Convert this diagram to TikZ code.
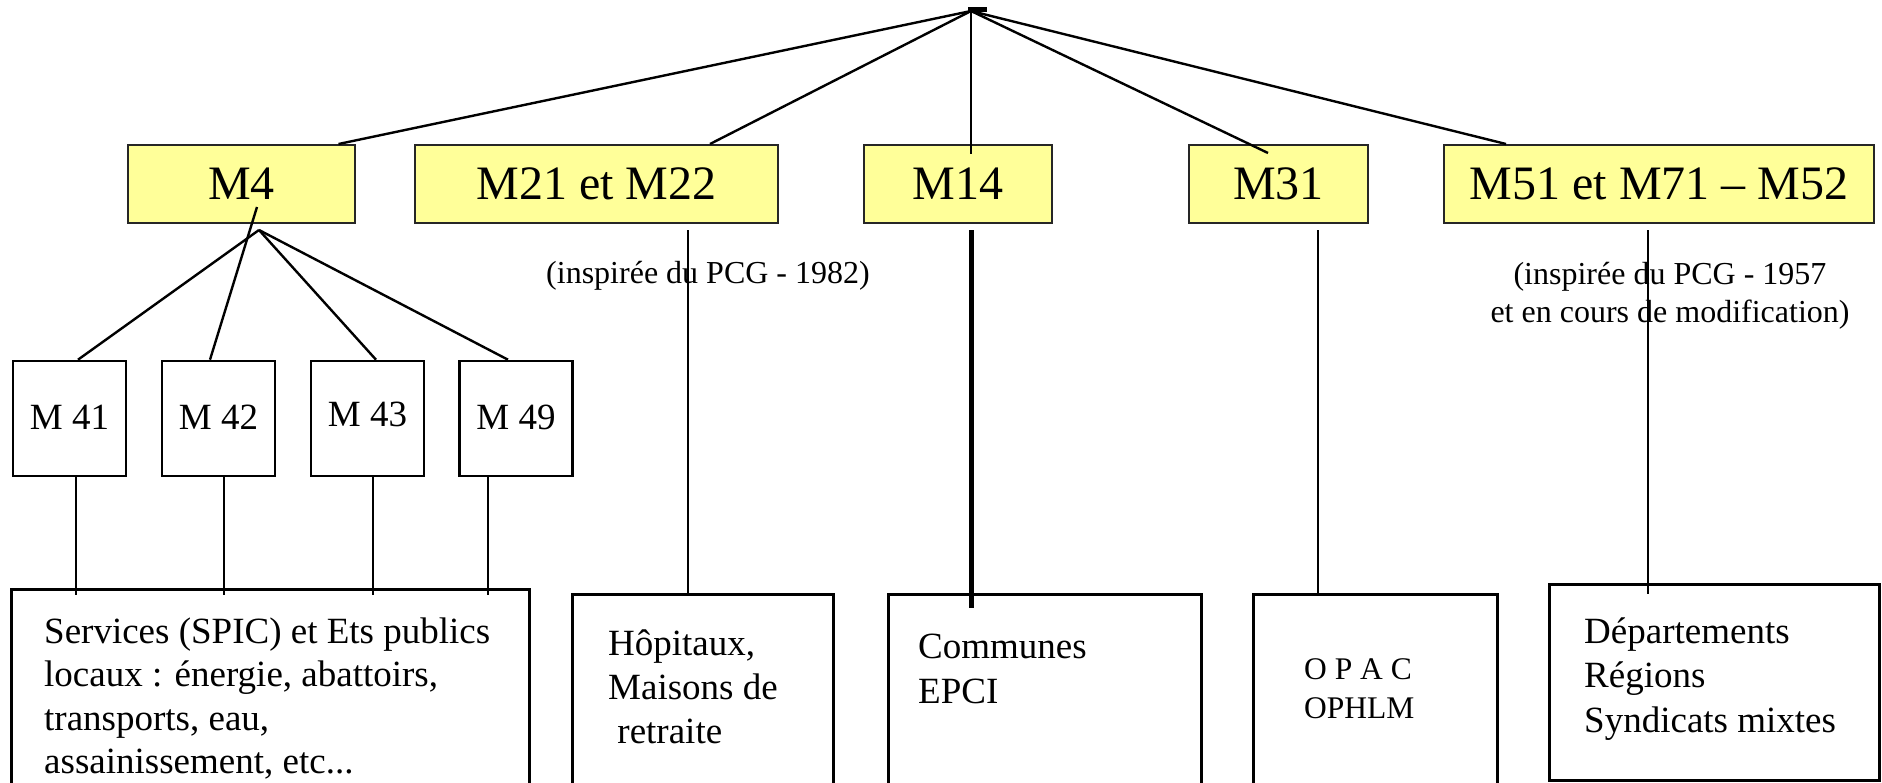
\documentclass[tikz,border=0pt]{standalone}
\usepackage{fontspec}
\setmainfont{Liberation Serif}
\definecolor{paleyellow}{HTML}{FFFF99}
\tikzstyle{plan} = [draw=black!85, line width=2pt, fill=paleyellow, inner sep=0pt, minimum height=78pt, font=\fontsize{48}{58}\selectfont]

\begin{document}
\begin{tikzpicture}[x=1pt,y=-1pt,
		sub/.style={draw, line width=2.6pt, inner sep=0pt, minimum width=113pt, minimum height=115pt, font=\fontsize{37}{44}\selectfont},
		org/.style={draw, line width=2.6pt, anchor=north west, inner sep=0pt, minimum height=300pt},
		txt/.style={anchor=base west, align=left, inner sep=0pt, font=\fontsize{37}{44}\selectfont},
		note/.style={anchor=base, align=center, inner sep=0pt, font=\fontsize{32}{38}\selectfont},
		link/.style={line width=2.4pt},
		drop/.style={line width=2pt}]
		\useasboundingbox (0,0) rectangle (1882,782);
		\coordinate (top) at (971,11);
		\node (m4) [plan, minimum width=227pt] at (241.5,184) {M4};
		\node (m21) [plan, minimum width=363pt] at (596.5,184) {M21 et M22};
		\node (m14) [plan, minimum width=188pt] at (958,184) {M14};
		\node (m31) [plan, minimum width=179pt] at (1278.5,184) {M31};
		\node (m51) [plan, minimum width=430pt] at (1659,184) {M51 et M71 – M52};
		\draw[link] (top) -- ([xshift=97pt]m4.north);
		\draw[link] (top) -- ([xshift=113.5pt]m21.north);
		\draw[link] (top) -- ([xshift=13pt,yshift=-10pt]m14.north);
		\draw[link] (top) -- ([xshift=-10.5pt,yshift=-9pt]m31.north);
		\draw[link] (top) -- ([xshift=-153pt]m51.north);
		\draw[line width=5pt] ([xshift=-3pt,yshift=2pt]top) -- ++(19,0);
		
		\node (m41) [sub] at (69.5,418.5) {\raisebox{3pt}{M 41}};
		\node (m42) [sub] at (218.5,418.5) {\raisebox{3pt}{M 42}};
		\node (m43) [sub] at (367.5,418.5) {\raisebox{8pt}{M 43}};
		\node (m49) [sub] at (516,418.5) {\raisebox{3pt}{M 49}};
		\coordinate (fan) at (259,230);
		\coordinate (m4tail) at (257,207);
		\draw[link] (fan) -- ([xshift=8.5pt]m41.north);
		\draw[link] (m4tail) -- ([xshift=-8.5pt]m42.north);
		\draw[link] (fan) -- ([xshift=8.5pt]m43.north);
		\draw[link] (fan) -- ([xshift=-8pt]m49.north);
		
		\node (note21) [note] at (708,283) {(inspirée du PCG - 1982)};
		\node (note51) [note] at (1670,322) {(inspirée du PCG - 1957\\et en cours de modification)};
		
		\node (svc) [org, minimum width=518pt] at (10,588) {};
		\node (hop) [org, minimum width=261pt] at (571,593) {};
		\node (com) [org, minimum width=313pt] at (887,593) {};
		\node (opac) [org, minimum width=244pt] at (1252,593) {};
		\node (dep) [org, minimum width=330pt, minimum height=196pt] at (1548,583) {};
		\foreach \m/\dx in {m41/6.5, m42/5.5, m43/5.5, m49/-28}
			\draw[line width=1.5pt] ([xshift=\dx]\m.south) -- ([xshift=\dx, yshift=-7pt]\m.south |- svc.north);
		\draw[drop] ([xshift=91.5pt,yshift=-6pt]m21.south) -- ([xshift=91.5pt]m21.south |- hop.north);
		\draw[line width=5pt] ([xshift=13pt,yshift=-6pt]m14.south) -- ([xshift=13pt,yshift=-15pt]m14.south |- com.north);
		\draw[drop] ([xshift=39.5pt,yshift=-6pt]m31.south) -- ([xshift=39.5pt]m31.south |- opac.north);
		\draw[drop] ([xshift=-11pt,yshift=-6pt]m51.south) -- ([xshift=-11pt,yshift=-11pt]m51.south |- dep.north);
		
		\node (svctext) [txt, font=\fontsize{37}{43.5}\selectfont] at (44,773.5) {Services (SPIC) et Ets publics\\locaux : énergie, abattoirs,\\transports, eau,\\assainissement, etc...};
		\node (hoptext) [txt] at (608,743) {Hôpitaux,\\Maisons de\\ \ retraite};
		\node (comtext) [txt, font=\fontsize{37}{45}\selectfont] at (918,703) {Communes\\EPCI};
		\node (opactext) [txt, font=\fontsize{31.5}{39}\selectfont] at (1304,718) {O P A C\\OPHLM};
		\node (deptext) [txt, font=\fontsize{37}{44.5}\selectfont] at (1584,732) {Départements\\Régions\\Syndicats mixtes};
	\end{tikzpicture}
\end{document}
